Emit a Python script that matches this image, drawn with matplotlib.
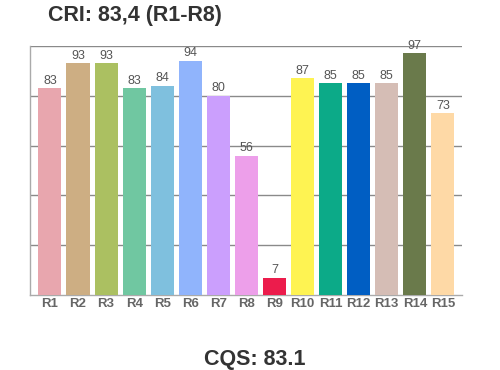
import matplotlib.pyplot as plt

labels = ['R1', 'R2', 'R3', 'R4', 'R5', 'R6', 'R7', 'R8', 'R9', 'R10',
          'R11', 'R12', 'R13', 'R14', 'R15']
values = [83, 93, 93, 83, 84, 94, 80, 56, 7, 87, 85, 85, 85, 97, 73]
colors = ['#e8a6ae', '#cdae83', '#abc061', '#70c7a1', '#7fc0de', '#90b4fc',
          '#cb9ffd', '#ed9fea', '#ec1c4c', '#fef352', '#0caa88', '#005ec3',
          '#d5bdb5', '#6a7a4b', '#fed9a6']
cri_title = 'CRI: 83,4 (R1-R8)'
cqs_title = 'CQS: 83.1'

plt.rcParams['font.family'] = ['Liberation Sans', 'DejaVu Sans']

fig = plt.figure(figsize=(5, 3.7), dpi=100)
# 轴的位置按像素换算
ax = fig.add_axes([30 / 500, 1 - 295 / 370, 432 / 500, 249 / 370])

x = range(len(values))
ax.bar(x, values, width=0.82, color=colors, zorder=3)
for i, v in enumerate(values):
    ax.text(i, v + 0.6, str(v), ha='center', va='bottom', fontsize=9,
            color='#555555', zorder=4)

ax.set_ylim(0, 100)
ax.set_xlim(-0.71, 14.68)
ax.set_yticks([20, 40, 60, 80, 100])
ax.set_yticklabels([])
ax.tick_params(axis='y', length=0)
ax.grid(axis='y', color='#8a8a8a', linewidth=1, zorder=0)

ax.set_xticks(list(x))
ax.set_xticklabels(labels, fontsize=9.5, fontweight='bold', color='#666666')
ax.tick_params(axis='x', length=0, pad=2)

for s in ['top', 'right']:
    ax.spines[s].set_visible(False)
for s in ['left', 'bottom']:
    ax.spines[s].set_color('#aaaaaa')
    ax.spines[s].set_linewidth(1)

fig.text(135 / 500, 1 - 16 / 370, cri_title, ha='center', va='center',
         fontsize=15.5, fontweight='bold', color='#333333')
fig.text(255 / 500, 1 - 360 / 370, cqs_title, ha='center', va='center',
         fontsize=15.5, fontweight='bold', color='#333333')

fig.savefig('out.png', dpi=100)
